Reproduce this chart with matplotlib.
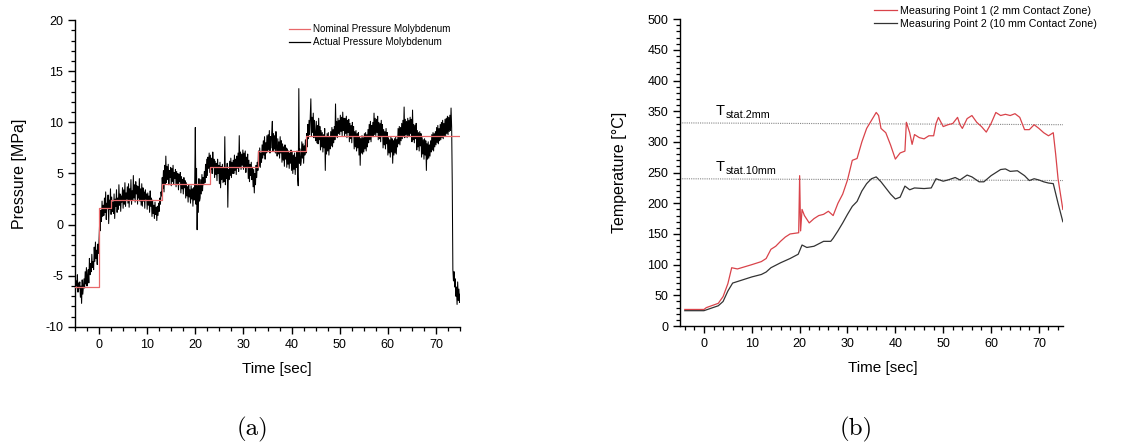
import numpy as np
import matplotlib
matplotlib.use("Agg")
import matplotlib.pyplot as plt
from matplotlib.ticker import MultipleLocator

plt.rcParams['font.family'] = ['Liberation Sans', 'DejaVu Sans']
plt.rcParams['axes.unicode_minus'] = False

# ---------------- (a) pressure data ----------------
# actual pressure, sampled every 0.125 s starting at t = -5 s (one row per second)
actual_pressure = [
    -5.2, -6.3, -5.5, -6.0, -4.9, -6.6, -5.7, -6.2,
    -5.6, -7.1, -6.0, -7.7, -5.4, -6.8, -6.1, -5.3,
    -6.2, -4.6, -5.8, -4.2, -6.0, -5.1, -4.4, -5.7,
    -3.3, -4.9, -3.8, -4.6, -2.9, -4.2, -3.6, -4.4,
    -2.2, -3.6, -1.7, -3.3, -2.5, -3.9, -1.9, -2.8,
    -1.5, 0.2, -0.6, 1.4, 0.3, 2.3, 0.8, 1.9,
    0.9, 2.6, 1.2, 3.2, 0.5, 2.1, 1.6, 2.9,
    0.1, 2.4, 1.5, 3.5, 1.0, 2.7, 1.3, 2.2,
    1.1, 3.0, 0.6, 2.5, 1.8, 3.4, 1.2, 2.6,
    1.5, 3.9, 1.9, 3.0, 1.3, 2.8, 2.2, 3.6,
    1.6, 3.4, 2.0, 4.1, 1.8, 3.1, 2.5, 3.7,
    2.1, 4.0, 1.7, 3.5, 2.4, 4.4, 2.0, 3.3,
    2.4, 4.8, 2.6, 3.9, 2.2, 4.2, 3.0, 3.8,
    2.0, 3.7, 2.6, 4.5, 2.3, 3.5, 1.9, 4.0,
    1.8, 3.6, 2.3, 3.2, 1.6, 3.4, 2.5, 3.0,
    1.5, 3.1, 1.9, 2.8, 1.2, 3.3, 1.8, 2.6,
    0.8, 2.4, 1.1, 1.9, 0.6, 2.2, 1.0, 1.7,
    0.4, 1.8, 0.9, 2.1, 1.3, 2.6, 2.0, 3.2,
    2.8, 4.6, 3.5, 5.3, 3.2, 5.8, 4.0, 6.7,
    4.1, 5.7, 4.4, 5.9, 3.9, 5.3, 4.6, 5.6,
    3.8, 5.5, 4.2, 5.8, 4.0, 5.1, 4.5, 5.4,
    3.7, 5.2, 4.0, 5.0, 3.4, 4.9, 4.2, 5.1,
    3.1, 4.7, 3.5, 4.4, 3.0, 4.6, 3.6, 4.3,
    2.6, 4.1, 2.8, 3.7, 2.2, 3.9, 2.7, 3.4,
    2.1, 3.8, 2.5, 3.5, 1.8, 3.6, 2.4, 4.2,
    9.5, 2.0, 5.5, -0.5, 3.8, 1.2, 4.5, 2.3,
    2.6, 4.4, 3.0, 4.9, 3.3, 4.6, 3.9, 5.2,
    4.1, 5.9, 4.6, 6.4, 4.8, 6.6, 5.5, 7.0,
    5.1, 6.8, 5.4, 6.5, 5.0, 7.1, 5.6, 6.4,
    4.6, 6.2, 4.9, 6.0, 4.3, 6.4, 5.0, 5.8,
    4.0, 6.1, 3.6, 5.7, 4.4, 5.9, 4.1, 5.5,
    4.2, 8.6, 3.9, 5.6, 4.5, 6.0, 1.7, 5.4,
    4.4, 6.2, 4.8, 6.5, 4.6, 6.1, 5.0, 6.3,
    5.0, 6.8, 5.3, 6.4, 4.9, 6.7, 5.5, 7.0,
    5.2, 8.7, 5.6, 7.1, 5.4, 6.9, 5.8, 7.3,
    5.4, 7.0, 5.6, 7.2, 5.1, 6.6, 5.7, 6.9,
    4.5, 6.3, 4.2, 5.9, 4.8, 6.1, 4.4, 5.6,
    3.7, 5.4, 3.1, 5.0, 3.9, 5.8, 4.6, 6.1,
    5.3, 7.2, 5.7, 7.5, 5.6, 7.0, 6.1, 7.8,
    6.5, 8.2, 6.8, 8.6, 6.4, 8.0, 7.0, 8.7,
    7.1, 8.8, 7.3, 9.2, 7.0, 8.6, 7.5, 9.0,
    10.1, 7.2, 8.9, 7.4, 8.7, 7.0, 9.1, 7.6,
    6.7, 8.4, 6.9, 8.1, 6.5, 8.6, 7.0, 8.2,
    6.1, 7.9, 6.3, 7.6, 5.7, 7.8, 6.4, 7.5,
    5.6, 7.4, 5.9, 7.2, 5.5, 7.0, 6.0, 7.3,
    5.3, 7.1, 5.0, 6.8, 5.4, 7.0, 4.9, 6.6,
    5.6, 7.2, 4.6, 3.8, 13.3, 6.0, 7.4, 5.8,
    6.2, 8.1, 6.5, 7.9, 6.0, 7.7, 6.8, 8.3,
    7.0, 8.9, 7.6, 9.8, 8.4, 10.2, 8.8, 10.6,
    12.3, 8.7, 10.5, 9.0, 10.9, 8.5, 10.2, 8.8,
    8.2, 10.1, 8.0, 9.7, 7.9, 10.4, 8.3, 9.6,
    7.3, 9.2, 7.6, 9.0, 7.1, 8.8, 7.5, 9.4,
    5.3, 8.6, 6.9, 8.9, 7.2, 9.0, 6.8, 8.5,
    7.4, 9.1, 7.7, 9.5, 7.6, 9.3, 8.0, 9.6,
    8.3, 11.8, 8.6, 10.1, 8.5, 10.4, 8.9, 10.2,
    8.8, 10.7, 9.1, 10.5, 8.7, 11.0, 9.2, 10.4,
    8.7, 10.4, 8.9, 10.6, 8.5, 10.2, 9.0, 10.3,
    8.1, 9.9, 8.4, 9.7, 8.0, 10.0, 8.6, 9.6,
    7.4, 9.1, 7.6, 9.2, 7.2, 8.9, 7.5, 9.0,
    6.8, 8.6, 5.8, 8.4, 7.0, 8.7, 6.9, 8.5,
    7.1, 8.9, 7.4, 9.0, 7.2, 8.8, 7.6, 9.3,
    8.0, 9.8, 8.3, 10.1, 8.1, 9.7, 8.6, 10.0,
    8.6, 10.9, 8.8, 10.4, 8.7, 10.3, 9.0, 10.6,
    8.3, 10.0, 8.4, 9.9, 8.1, 10.2, 8.6, 9.8,
    7.5, 9.3, 7.8, 9.1, 7.4, 9.4, 7.9, 9.0,
    6.8, 8.5, 7.0, 8.3, 6.6, 8.6, 7.1, 8.4,
    6.0, 8.2, 6.8, 8.4, 7.0, 8.6, 6.9, 8.3,
    7.6, 9.4, 7.9, 9.6, 7.8, 9.5, 8.2, 9.9,
    8.4, 10.2, 8.6, 11.5, 8.5, 10.3, 8.8, 10.1,
    8.5, 10.4, 8.7, 10.2, 8.6, 10.5, 8.9, 10.3,
    8.1, 11.2, 8.3, 9.8, 8.0, 9.7, 8.4, 9.9,
    7.3, 9.2, 7.6, 9.0, 7.2, 9.1, 7.7, 8.9,
    6.6, 8.5, 6.9, 8.3, 6.4, 8.4, 6.8, 8.2,
    5.3, 7.9, 6.4, 8.1, 6.5, 7.8, 6.7, 8.2,
    7.1, 8.8, 7.3, 9.0, 7.2, 8.9, 7.6, 9.1,
    7.8, 9.5, 8.0, 9.7, 7.9, 9.4, 8.2, 9.8,
    8.3, 10.0, 8.5, 10.2, 8.4, 9.9, 8.7, 10.3,
    8.7, 10.4, 8.9, 10.6, 8.8, 10.5, 9.1, 10.7,
    9.2, 11.4, 9.5, 4.0, -4.4, -5.5, -4.6, -6.1,
    -5.3, -7.0, -6.1, -7.8, -5.6, -7.4, -6.3, -7.6,
    -6.8,
]
sample_step = 0.125
pressure_time = -5 + sample_step * np.arange(len(actual_pressure))

nominal_time = [-5, 0, 2.5, 13, 23, 33, 43, 75]
nominal_pressure = [-6.1, 1.6, 2.4, 4.0, 5.6, 7.2, 8.7, 8.7]

# ---------------- (b) temperature data ----------------
mp1_time = [-4, 0, 0.5, 3, 4, 5, 5.8, 7, 10, 12, 13, 14, 15, 16, 17, 18, 19.8,
            20.0, 20.2, 20.5, 21, 22, 23, 24, 25, 26, 27, 28, 29, 30, 31, 32,
            33, 34, 35, 36, 36.5, 37, 38, 39, 40, 41, 42, 42.3, 43, 43.5, 44,
            45, 46, 47, 48, 48.5, 49, 50, 51, 52, 53, 53.5, 54, 55, 56, 57, 58,
            59, 60, 61, 62, 63, 64, 65, 66, 67, 68, 69, 70, 71, 72, 73, 73.5,
            74, 75]
mp1_temp = [27, 27, 30, 37, 48, 69, 95, 93, 100, 105, 110, 125, 130, 138, 145,
            150, 152, 245, 155, 190, 180, 168, 175, 180, 182, 187, 180, 200,
            215, 238, 270, 273, 300, 322, 335, 348, 343, 322, 315, 295, 272,
            282, 285, 332, 315, 296, 312, 307, 305, 310, 310, 330, 340, 325,
            328, 330, 340, 328, 322, 338, 343, 332, 325, 316, 330, 348, 343,
            345, 343, 346, 340, 320, 320, 328, 322, 315, 310, 315, 280, 240,
            190]

mp2_time = [-4, 0, 3, 4, 5, 6, 8, 10, 12, 13, 14, 16, 18, 19.7, 20.5, 21.5, 23,
            25, 26.5, 27, 28, 29, 30, 31, 32, 33, 34, 35, 36, 37, 38, 39, 40,
            41, 42, 43, 44, 46, 47.5, 48.5, 50, 51, 52.5, 53.5, 55, 56, 57.5,
            58.5, 60, 62, 63, 64, 65.5, 67, 68, 69, 70, 71, 72, 73, 74, 75]
mp2_temp = [25, 25, 33, 40, 57, 70, 75, 80, 84, 88, 95, 103, 110, 117, 132,
            128, 130, 138, 138, 143, 155, 168, 182, 195, 203, 220, 232, 240,
            243, 235, 225, 215, 207, 210, 228, 222, 225, 224, 225, 240, 236,
            238, 242, 238, 246, 243, 235, 235, 245, 255, 256, 252, 253, 245,
            237, 240, 238, 235, 233, 232, 200, 170]

tstat_time = [-5, 76.5]
tstat_2mm = [331, 328]
tstat_10mm = [240, 237]

# ---------------- figure ----------------
fig = plt.figure(figsize=(11.36, 4.46), dpi=100)
ax1 = fig.add_axes([0.066, 0.267, 0.339, 0.688])
ax2 = fig.add_axes([0.5986, 0.269, 0.337, 0.688])

tick_fs = 9
label_fs = 11.5


def style_axes(ax):
    for side in ('top', 'right'):
        ax.spines[side].set_visible(False)
    for side in ('left', 'bottom'):
        ax.spines[side].set_linewidth(1.0)
    ax.tick_params(which='major', direction='out', length=5, width=1.0,
                   labelsize=tick_fs, pad=3.5)
    ax.tick_params(which='minor', direction='out', length=3, width=0.9)


# (a)
ax1.step(nominal_time, nominal_pressure, where='post', color='#e8686a',
         lw=0.9, label='Nominal Pressure Molybdenum', zorder=3)
ax1.plot(pressure_time, actual_pressure, color='black', lw=0.75,
         label='Actual Pressure Molybdenum', zorder=2)
ax1.set_xlim(-5, 75)
ax1.set_ylim(-10, 20)
ax1.xaxis.set_major_locator(MultipleLocator(10))
ax1.xaxis.set_minor_locator(MultipleLocator(2.5))
ax1.yaxis.set_major_locator(MultipleLocator(5))
ax1.yaxis.set_minor_locator(MultipleLocator(1))
style_axes(ax1)
ax1.set_xlabel('Time [sec]', fontsize=label_fs - 0.5)
ax1.set_ylabel('Pressure [MPa]', fontsize=label_fs)
ax1.xaxis.set_label_coords(0.525, -0.115)
ax1.yaxis.set_label_coords(-0.125, 0.5)
leg1 = ax1.legend(loc='upper right', bbox_to_anchor=(0.985, 1.0),
                  frameon=False, fontsize=7.1, handlelength=2.1,
                  handletextpad=0.3, labelspacing=0.3, borderaxespad=0.0)
for h in leg1.legend_handles:
    h.set_linewidth(0.9)

# (b)
ax2.plot(tstat_time, tstat_2mm, color='#888888', lw=0.8, ls=(0, (1, 1)),
         zorder=1)
ax2.plot(tstat_time, tstat_10mm, color='#888888', lw=0.8, ls=(0, (1, 1)),
         zorder=1)
ax2.plot(mp1_time, mp1_temp, color='#d9434a', lw=0.9,
         label='Measuring Point 1 (2 mm Contact Zone)', zorder=3)
ax2.plot(mp2_time, mp2_temp, color='#333333', lw=0.9,
         label='Measuring Point 2 (10 mm Contact Zone)', zorder=3)
for level, sub in ((344, 'stat.2mm'), (253, 'stat.10mm')):
    ax2.text(2.5, level, 'T', fontsize=10.5)
    ax2.annotate(sub, xy=(2.5, level), xytext=(6.8, -2.5),
                 textcoords='offset points', fontsize=7.8)
ax2.set_xlim(-5, 75)
ax2.set_ylim(0, 500)
ax2.xaxis.set_major_locator(MultipleLocator(10))
ax2.xaxis.set_minor_locator(MultipleLocator(2))
ax2.yaxis.set_major_locator(MultipleLocator(50))
ax2.yaxis.set_minor_locator(MultipleLocator(10))
style_axes(ax2)
ax2.set_xlabel('Time [sec]', fontsize=label_fs - 0.5)
ax2.set_ylabel('Temperature [°C]', fontsize=label_fs)
ax2.xaxis.set_label_coords(0.53, -0.115)
ax2.yaxis.set_label_coords(-0.139, 0.5)
ax2.legend(loc='upper right', bbox_to_anchor=(1.1, 1.057), frameon=False,
           fontsize=7.7, handlelength=2.15, handletextpad=0.3,
           labelspacing=0.25, borderaxespad=0.0)

# captions
fig.text(0.222, 0.036, '(a)', fontsize=18, family='cmr10', ha='center',
         va='center')
fig.text(0.754, 0.036, '(b)', fontsize=18, family='cmr10', ha='center',
         va='center')

fig.savefig('out.png', dpi=100)
